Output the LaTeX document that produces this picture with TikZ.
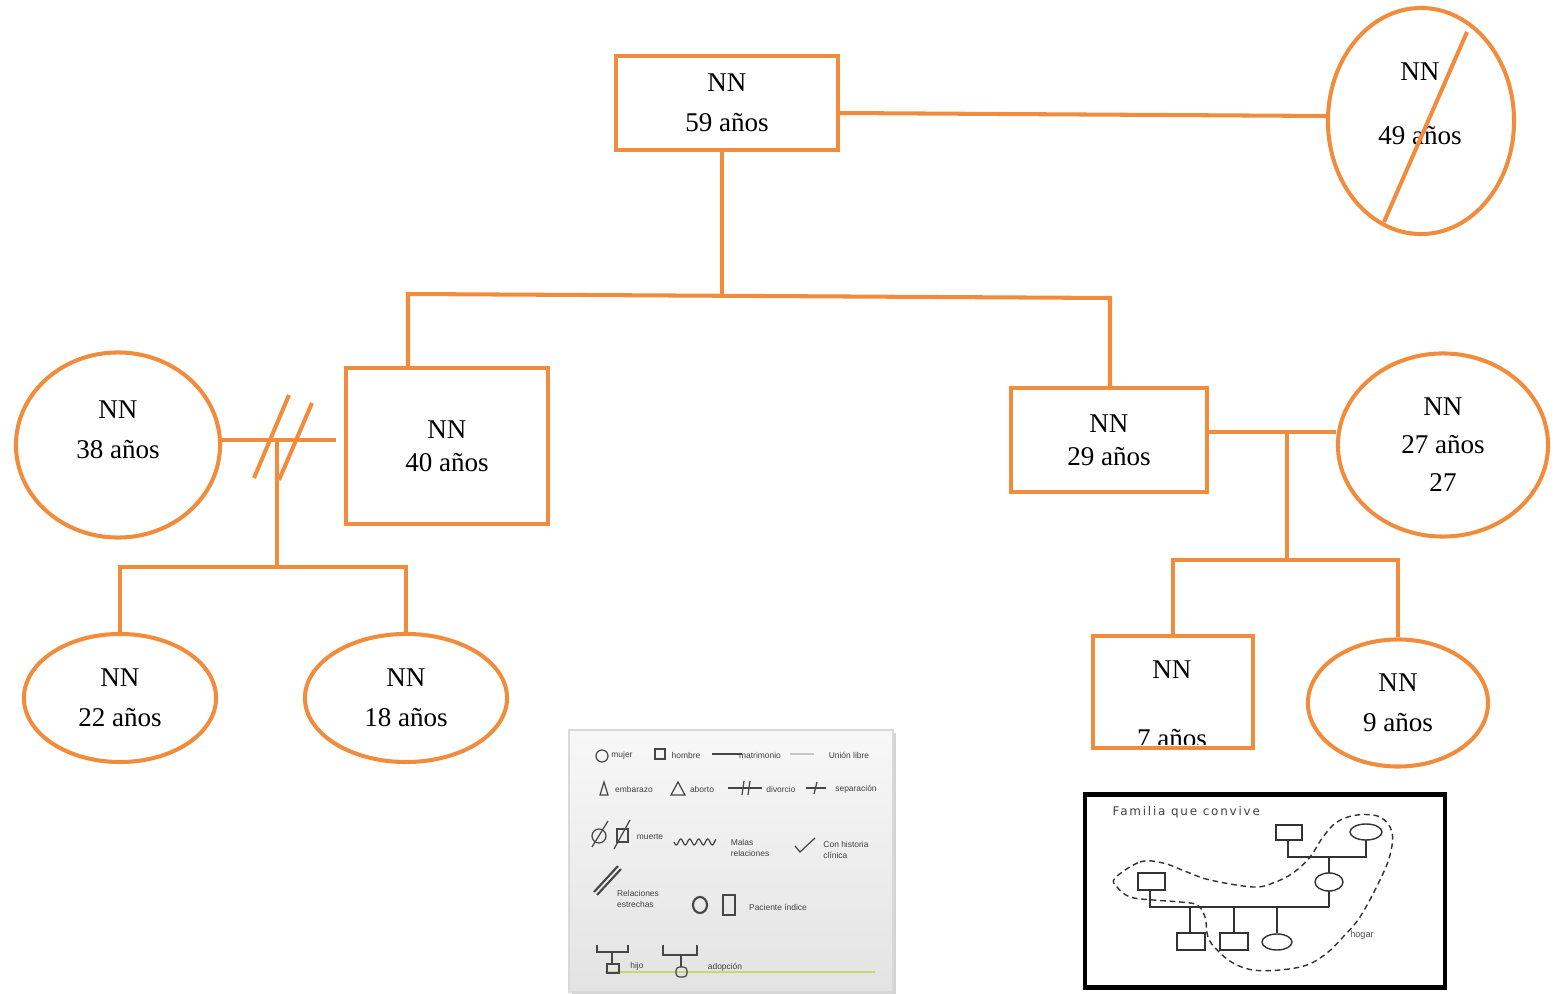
\documentclass[tikz,border=0pt]{standalone}
\usepackage{fontspec}
\setmainfont{Liberation Serif}
\setsansfont{Liberation Sans}
\newfontfamily\espaciada[LetterSpace=15]{DejaVu Sans}
\usetikzlibrary{shapes.geometric, shadows}

\definecolor{naranja}{RGB}{240,140,60}
\definecolor{verdeclaro}{RGB}{200,214,120}
\tikzset{
  hombre/.style={draw=naranja, line width=1.15pt, rectangle, inner sep=0pt, align=center,
    font=\fontsize{7.7}{11.5}\selectfont},
  mujer/.style={draw=naranja, line width=1.15pt, ellipse, inner sep=0pt, align=center,
    font=\fontsize{7.7}{11.5}\selectfont},
  texto/.style={inner sep=0pt, align=center, font=\fontsize{7.7}{11.5}\selectfont},
  lazo/.style={naranja, line width=1.15pt},
  simbolo/.style={gray!55!black, line width=0.35pt},
  leyenda/.style={inner sep=0pt, align=left, text=gray!50!black,
    font=\sffamily\fontsize{2.4}{2.9}\selectfont},
  mini/.style={black!80, line width=0.4pt}
}

\begin{document}
\begin{tikzpicture}[x=0.01cm, y=-0.01cm]
  \useasboundingbox (0,0) rectangle (1562,994);

  % abuelos
  \node[hombre, minimum width=2.21cm, minimum height=0.93cm] (p59) at (727,103) {NN\\59 años};
  \node[mujer, minimum width=1.86cm, minimum height=2.26cm] (p49) at (1421,121) {};
  \node[texto, font=\fontsize{7.7}{18.2}\selectfont] (t49) at (1420,104) {NN\\49 años};
  \draw[lazo] (1467,32) -- (1384,222);
  \draw[lazo] (p59.east |- 0,113) -- (p49.west |- 0,116);

  % hijos
  \coordinate (hM) at (722,296);
  \coordinate (hL) at (408,294);
  \coordinate (hR) at (1110,298);
  \draw[lazo] (p59.south -| hM) -- (hM);
  \node[hombre, minimum width=2.02cm, minimum height=1.55cm, font=\fontsize{7.7}{9.4}\selectfont]
    (p40) at (447,446) {NN\\40 años};
  \node[hombre, minimum width=1.96cm, minimum height=1.03cm, font=\fontsize{7.7}{9.4}\selectfont]
    (p29) at (1109,440) {NN\\29 años};
  \draw[lazo] (p40.north -| hL) -- (hL) -- (hR) -- (p29.north -| hR);

  % familia izquierda (divorcio)
  \node[mujer, minimum width=2.04cm, minimum height=1.85cm] (p38) at (118,445) {};
  \node[texto] (t38) at (118,430) {NN\\38 años};
  \coordinate (div) at (336,440);
  \draw[lazo] (p38.east |- div) -- (div);
  \draw[lazo] (254,478) -- (289,395);
  \draw[lazo] (279,480) -- (312,403);
  \coordinate (kL) at (277,567);
  \draw[lazo] (kL |- div) -- (kL);
  \node[mujer, minimum width=1.92cm, minimum height=1.28cm] (p22) at (120,698) {NN\\22 años};
  \node[mujer, minimum width=2.02cm, minimum height=1.28cm] (p18) at (406,698) {NN\\18 años};
  \draw[lazo] (p22.north) -- (p22.north |- kL) -- (p18.north |- kL) -- (p18.north);

  % familia derecha
  \node[mujer, minimum width=2.10cm, minimum height=1.83cm, font=\fontsize{7.7}{10.8}\selectfont]
    (p27) at (1443,445) {NN\\27 años\\27};
  \coordinate (mR) at (1287,432);
  \coordinate (kR) at (1287,560);
  \draw[lazo] (p29.east |- mR) -- (p27.west |- mR);
  \draw[lazo] (mR) -- (kR);
  \node[mujer, minimum width=1.80cm, minimum height=1.27cm] (p9) at (1398,703) {NN\\9 años};
  \begin{scope}
    \clip (1095,639) rectangle (1251,745);
    \node[texto, font=\fontsize{7.7}{19.5}\selectfont] (t7) at (1172,704) {NN\\7 años};
  \end{scope}
  \node[hombre, minimum width=1.60cm, minimum height=1.11cm] (p7) at (1173,692) {};
  \draw[lazo] (p7.north) -- (p7.north |- kR) -- (p9.north |- kR) -- (p9.north);

  % leyenda de simbolos
  \node[draw=gray!30, line width=0.6pt, top color=gray!6, bottom color=gray!22,
    drop shadow={shadow xshift=0.03cm, shadow yshift=-0.03cm, opacity=0.35},
    minimum width=3.23cm, minimum height=2.61cm] (simbolos) at (731,861) {};
  \draw[simbolo] (602,756) circle[radius=6];
  \draw[simbolo] (655,749) rectangle (665,759);
  \draw[simbolo] (712,754) -- (742,754);
  \draw[simbolo, gray!45] (790,754) -- (814,754);
  \node[leyenda] (lmujer) at (622,755) {mujer};
  \node[leyenda] (lhombre) at (686,755) {hombre};
  \node[leyenda] (lmatr) at (760,755) {matrimonio};
  \node[leyenda] (lunion) at (849,755) {Unión libre};
  \draw[simbolo] (600,795) -- (608,795) -- (604,782) -- cycle;
  \draw[simbolo] (671,795) -- (685,795) -- (678,782) -- cycle;
  \draw[simbolo] (728,788) -- (762,788);
  \draw[simbolo] (742,795) -- (744,781);
  \draw[simbolo] (748,795) -- (750,781);
  \draw[simbolo] (806,788) -- (826,788);
  \draw[simbolo] (814,794) -- (817,782);
  \node[leyenda] (lemb) at (634,789) {embarazo};
  \node[leyenda] (laborto) at (702,789) {aborto};
  \node[leyenda] (ldiv) at (781,789) {divorcio};
  \node[leyenda] (lsep) at (856,789) {separación};
  \draw[simbolo] (599,836) circle[radius=7];
  \draw[simbolo] (592,847) -- (608,821);
  \draw[simbolo] (617,829) rectangle (628,842);
  \draw[simbolo] (614,849) -- (630,820);
  \draw[simbolo] plot[domain=0:42, samples=60] ({674+\x},{842+3*sin(\x*40)});
  \draw[simbolo] (795,846) -- (800,852) -- (815,838);
  \node[leyenda] (lmuerte) at (650,837) {muerte};
  \node[leyenda] (lmalas) at (750,848) {Malas\\relaciones};
  \node[leyenda] (lhist) at (846,850) {Con historia\\clínica};
  \draw[simbolo, line width=0.6pt] (594,892) -- (618,866);
  \draw[simbolo, line width=0.6pt] (597,895) -- (621,869);
  \draw[simbolo, line width=0.6pt] (700,905) ellipse[x radius=7, y radius=8];
  \draw[simbolo, line width=0.6pt] (723,895) rectangle (735,915);
  \node[leyenda] (lestr) at (638,899) {Relaciones\\estrechas};
  \node[leyenda] (lindice) at (778,907) {Paciente índice};
  \draw[verdeclaro, line width=0.6pt] (605,972) -- (875,972);
  \draw[simbolo] (597,945) -- (597,952) -- (628,952) -- (628,945);
  \draw[simbolo] (612,952) -- (612,964);
  \draw[simbolo] (607,964) rectangle (619,973);
  \draw[simbolo] (663,945) -- (663,955) -- (697,955) -- (697,945);
  \draw[simbolo] (681,955) -- (681,967);
  \draw[simbolo, rounded corners=1pt] (676,967) rectangle (687,977);
  \node[leyenda] (lhijo) at (637,966) {hijo};
  \node[leyenda] (ladop) at (725,967) {adopción};

  % familia que convive
  \node[draw=black, line width=1.2pt, fill=white,
    drop shadow={shadow xshift=0.02cm, shadow yshift=-0.02cm, opacity=0.3},
    minimum width=3.6cm, minimum height=1.93cm] (convive) at (1265,891) {};
  \node[inner sep=0pt, anchor=west, text=black!75, font=\espaciada\fontsize{3.4}{4}\selectfont]
    (tconvive) at (1112,812) {Familia que convive};
  \draw[mini] (1276,825) rectangle (1302,840);
  \draw[mini] (1366,832) ellipse[x radius=16, y radius=8];
  \draw[mini] (1288,840) -- (1288,857) -- (1366,857) -- (1366,840);
  \draw[mini] (1329,857) -- (1329,873);
  \draw[mini] (1329,882) ellipse[x radius=14, y radius=9];
  \draw[mini] (1329,891) -- (1329,907);
  \draw[mini] (1138,873) rectangle (1165,890);
  \draw[mini] (1150,890) -- (1150,907) -- (1329,907);
  \draw[mini] (1190,907) -- (1190,933);
  \draw[mini] (1177,933) rectangle (1205,950);
  \draw[mini] (1234,907) -- (1234,933);
  \draw[mini] (1220,933) rectangle (1248,950);
  \draw[mini] (1277,907) -- (1277,933);
  \draw[mini] (1277,942) ellipse[x radius=15, y radius=8];
  \draw[mini, dash pattern=on 1.6pt off 1.1pt] plot[smooth cycle, tension=0.6] coordinates {
    (1115,878) (1140,862) (1163,863) (1187,872) (1210,880) (1253,887) (1273,883)
    (1293,873) (1310,857) (1323,837) (1337,822) (1357,815) (1380,817) (1392,832)
    (1390,855) (1380,880) (1360,917) (1343,937) (1327,953) (1307,965) (1280,970)
    (1253,970) (1233,963) (1217,950) (1208,937) (1205,917) (1197,905) (1180,902)
    (1153,900) (1130,897) (1117,887)};
  \node[inner sep=0pt, text=black!70, font=\sffamily\fontsize{2.6}{3}\selectfont]
    (thogar) at (1362,935) {hogar};
\end{tikzpicture}
\end{document}
